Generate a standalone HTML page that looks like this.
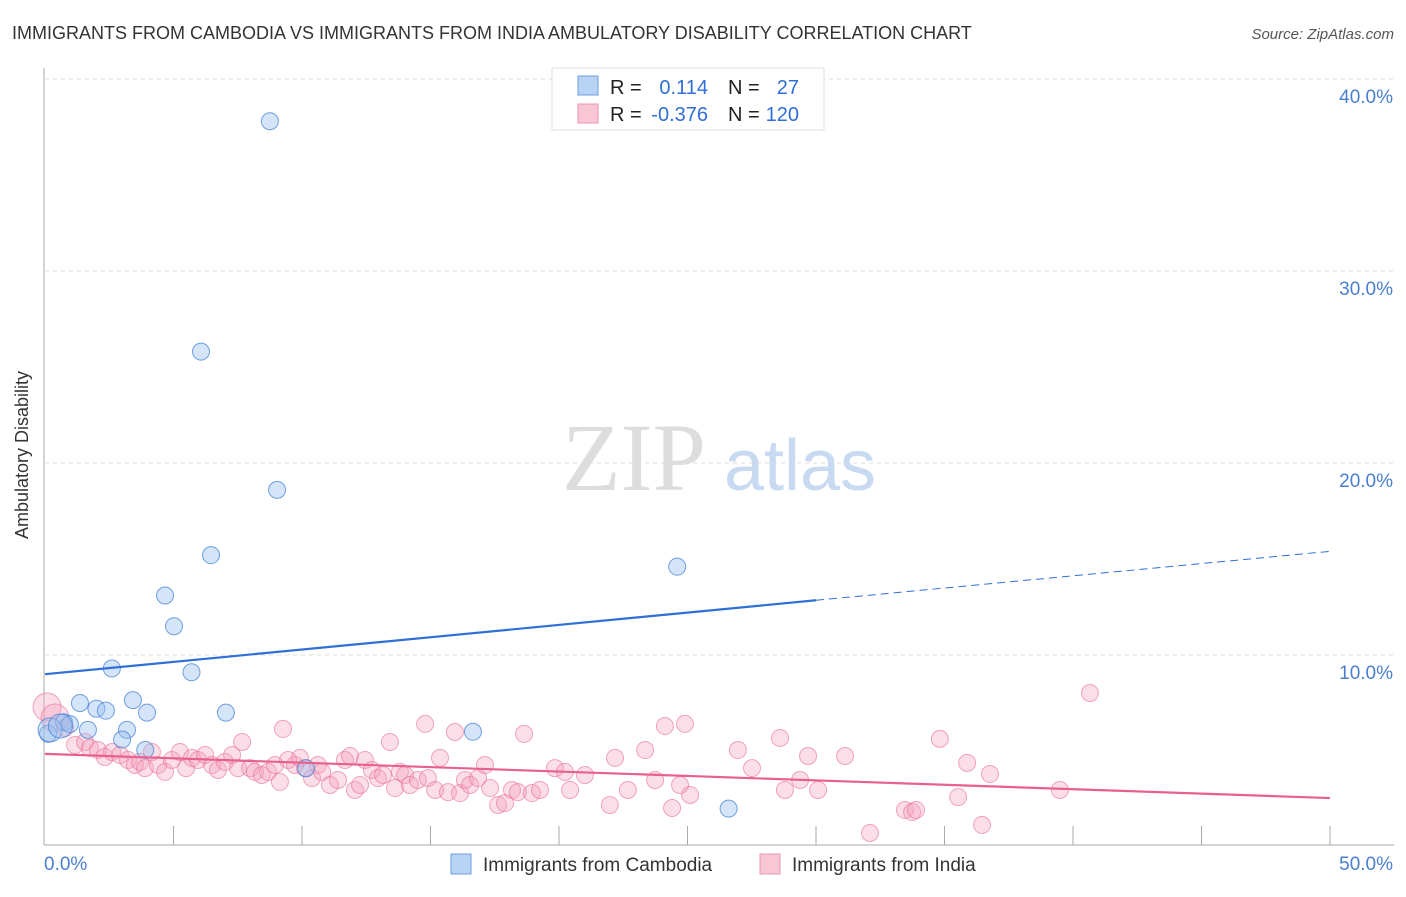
<!DOCTYPE html>
<html><head><meta charset="utf-8"><style>
body{margin:0;background:#fff;font-family:"Liberation Sans",sans-serif;}
</style></head><body>
<svg width="1406" height="892" viewBox="0 0 1406 892" xmlns="http://www.w3.org/2000/svg">
<text x="12" y="39" font-size="18" fill="#333">IMMIGRANTS FROM CAMBODIA VS IMMIGRANTS FROM INDIA AMBULATORY DISABILITY CORRELATION CHART</text>
<text x="1394" y="39" font-size="15" fill="#555" font-style="italic" text-anchor="end">Source: ZipAtlas.com</text>
<g id="grid"></g>
<text x="634" y="490" font-size="96" fill="#ddd" font-family="Liberation Serif,serif" text-anchor="middle">ZIP</text>
<text x="800" y="490" font-size="72" fill="#c8daf2" text-anchor="middle">atlas</text>
<g id="ticks"></g>
<g id="india"></g>
<g id="camb"></g>
<g id="trends"></g>
<text x="28" y="455" font-size="18" fill="#333" text-anchor="middle" transform="rotate(-90 28 455)">Ambulatory Disability</text>
<g>
<rect x="552" y="68" width="272" height="62" fill="#fff" stroke="#ddd"/>
<rect x="578" y="76" width="20" height="19" fill="#b9d3f5" stroke="#6f9ee0"/>
<rect x="578" y="104" width="20" height="19" fill="#f9c6d5" stroke="#ec94b0"/>
<g font-size="20" fill="#222">
<text x="610" y="94">R =</text><text x="610" y="121">R =</text>
<text x="728" y="94">N =</text><text x="728" y="121">N =</text></g>
<g font-size="20" fill="#2f6fd6" text-anchor="end">
<text x="708" y="94">0.114</text><text x="708" y="121">-0.376</text>
<text x="799" y="94">27</text><text x="799" y="121">120</text></g>
</g>
<g>
<rect x="451" y="854" width="20" height="20" fill="#b9d3f5" stroke="#6f9ee0"/>
<text x="483" y="871" font-size="19" fill="#333">Immigrants from Cambodia</text>
<rect x="760" y="854" width="20" height="20" fill="#f9c6d5" stroke="#ec94b0"/>
<text x="792" y="871" font-size="19" fill="#333">Immigrants from India</text>
</g>
</svg>
<script>
const NS="http://www.w3.org/2000/svg";
const yTicks=[10,20,30,40];
const yTickLabels=["10.0%","20.0%","30.0%","40.0%"];
const xTickLabels=["0.0%","50.0%"];
const cambX=[8.75,6.07,9.03,6.46,4.67,5.02,24.6,2.6,5.7,1.36,3.42,2.0,2.37,3.97,7.04,0.74,0.97,1.67,3.19,16.65,0.12,3.0,3.9,10.16,26.6,0.2,0.6];
const cambY=[37.8,25.8,18.6,15.2,13.1,11.5,14.6,9.3,9.1,7.5,7.65,7.2,7.1,7.0,7.0,6.5,6.4,6.1,6.1,6.0,5.9,5.6,5.05,4.1,2.0,6.1,6.3];
const indX=[0.08,0.39,0.78,1.17,1.56,1.75,2.06,2.33,2.61,2.92,3.23,3.5,3.7,3.89,4.16,4.4,4.67,4.94,5.25,5.49,5.72,5.95,6.23,6.5,6.73,7.0,7.28,7.51,7.67,7.98,8.17,8.44,8.68,8.95,9.14,9.26,9.46,9.73,9.92,10.12,10.39,10.62,10.78,11.09,11.4,11.67,11.87,12.06,12.26,12.45,12.72,12.96,13.15,13.42,13.62,13.81,14.01,14.2,14.51,14.79,14.9,15.18,15.37,15.68,15.95,16.15,16.34,16.54,16.85,17.12,17.32,17.63,17.9,18.17,18.4,18.64,18.95,19.26,19.84,20.23,20.43,21.01,21.98,22.18,22.68,23.35,23.74,24.12,24.4,24.71,24.9,25.1,26.96,27.51,28.6,28.79,29.38,29.69,30.08,31.13,32.1,33.46,33.74,33.89,34.82,35.53,35.88,36.46,36.77,39.49,40.66];
const indY=[7.29,6.72,6.2,5.31,5.47,5.16,5.05,4.69,4.95,4.79,4.53,4.27,4.43,4.11,4.95,4.27,3.91,4.53,4.95,4.11,4.64,4.53,4.79,4.27,4.01,4.43,4.79,4.11,5.47,4.11,3.91,3.75,3.91,4.27,3.39,6.15,4.53,4.27,4.64,4.11,3.59,4.27,3.91,3.23,3.49,4.53,4.74,2.97,3.23,4.53,4.01,3.59,3.75,5.47,3.07,3.91,3.75,3.23,3.49,6.41,3.59,2.97,4.64,2.86,5.99,2.81,3.49,3.23,3.59,4.27,3.07,2.19,2.29,2.97,2.86,5.89,2.81,2.97,4.11,3.91,2.97,3.75,2.19,4.64,2.97,5.05,3.49,6.3,2.03,3.23,6.41,2.71,5.05,4.11,5.68,2.97,3.49,4.74,2.97,4.74,0.73,1.93,1.82,1.93,5.63,2.6,4.38,1.15,3.8,2.97,8.02];
const cambTrend=[9.0,12.85,15.4];const cambTrendX=[0,30,50];
const indTrend=[4.85,2.55];
const X=v=>45+v*25.7, Y=v=>847-v*19.2;
function el(t,a,p){const e=document.createElementNS(NS,t);for(const k in a)e.setAttribute(k,a[k]);p.appendChild(e);return e;}
const grid=document.getElementById('grid'),ticks=document.getElementById('ticks');
yTicks.forEach((v,i)=>{
 const l=el('line',{x1:45,x2:1394,y1:Y(v),y2:Y(v),stroke:'#ddd','stroke-dasharray':'4 4'},grid);
 
 
 const t=el('text',{x:1393,y:Y(v)+24,'font-size':19,fill:'#4a7fd0','text-anchor':'end'},ticks);t.textContent=yTickLabels[i];
 
 
});
el('line',{x1:44,x2:44,y1:68,y2:845,stroke:'#aaa'},ticks);
el('line',{x1:44,x2:1394,y1:845,y2:845,stroke:'#aaa'},ticks);
for(let i=1;i<=10;i++){const t=el('line',{x1:X(i*5),x2:X(i*5),y1:826,y2:845,stroke:'#aaa'},ticks);
 
 }
const xl0=el('text',{x:44,y:870,'font-size':19,fill:'#4a7fd0'},ticks);xl0.textContent=xTickLabels[0];


const xl1=el('text',{x:1393,y:870,'font-size':19,fill:'#4a7fd0','text-anchor':'end'},ticks);xl1.textContent=xTickLabels[1];


const ig=document.getElementById('india');
indX.forEach((x,i)=>{const c=el('circle',{cx:X(x),cy:Y(indY[i]),r:i<2?14:8.5,fill:'rgba(244,160,188,0.35)',stroke:'rgba(232,110,150,0.6)','stroke-width':1},ig);
 
 });
const cg=document.getElementById('camb');
cambX.forEach((x,i)=>{const c=el('circle',{cx:X(x),cy:Y(cambY[i]),r:i>=25?12:8.5,fill:'rgba(150,190,240,0.4)',stroke:'rgba(70,130,215,0.75)','stroke-width':1},cg);
 
 });
const tg=document.getElementById('trends');
const b1=el('line',{x1:X(cambTrendX[0]),y1:Y(cambTrend[0]),x2:X(cambTrendX[1]),y2:Y(cambTrend[1]),stroke:'#2f6fd6','stroke-width':2.2},tg);


const b2=el('line',{x1:X(cambTrendX[1]),y1:Y(cambTrend[1]),x2:X(cambTrendX[2]),y2:Y(cambTrend[2]),stroke:'#2f6fd6','stroke-width':1,'stroke-dasharray':'8 5'},tg);


const p1=el('line',{x1:X(0),y1:Y(indTrend[0]),x2:X(50),y2:Y(indTrend[1]),stroke:'#e8608f','stroke-width':2.2},tg);


</script>
</body></html>
